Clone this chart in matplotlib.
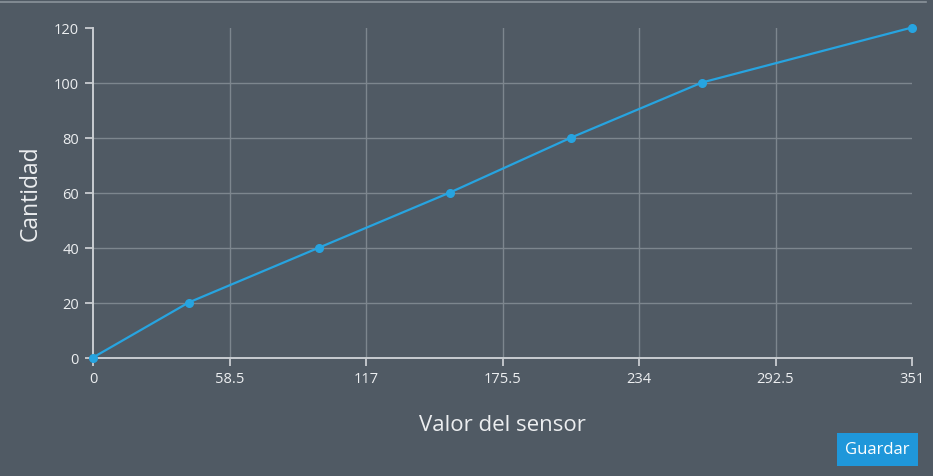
import matplotlib.pyplot as plt
from matplotlib.patches import Rectangle
from matplotlib.lines import Line2D

# Datos de la curva de calibración
valor_sensor = [0, 41, 97, 153, 205, 261, 351]
cantidad = [0, 20, 40, 60, 80, 100, 120]
xticks = [0, 58.5, 117, 175.5, 234, 292.5, 351]
xtick_labels = ["0", "58.5", "117", "175.5", "234", "292.5", "351"]
yticks = [0, 20, 40, 60, 80, 100, 120]

BG = '#505a64'
GRID = '#7d868e'
AXIS = '#c9cdd1'
TEXT = '#eceef0'
LINEA = '#27a4e0'

plt.rcParams['font.family'] = ['Open Sans', 'DejaVu Sans']

fig = plt.figure(figsize=(9.33, 4.77), dpi=100, facecolor=BG)
ax = fig.add_axes([93 / 933, 1 - 358.5 / 477, 819 / 933, 330 / 477])
ax.set_facecolor(BG)

ax.set_xlim(0, 351)
ax.set_ylim(0, 120)

# Rejilla
for yv in yticks[1:-1]:
    ax.axhline(yv, color=GRID, linewidth=1, zorder=1)
for xv in xticks[1:-1]:
    ax.axvline(xv, color=GRID, linewidth=1, zorder=1)

ax.plot(valor_sensor, cantidad, color=LINEA, linewidth=1.6, marker='o',
        markersize=5.5, zorder=3, clip_on=False)

for s in ['top', 'right']:
    ax.spines[s].set_visible(False)
for s in ['left', 'bottom']:
    ax.spines[s].set_color(AXIS)
    ax.spines[s].set_linewidth(1.4)

ax.set_xticks(xticks)
ax.set_xticklabels(xtick_labels)
ax.set_yticks(yticks)
ax.tick_params(colors=AXIS, labelcolor=TEXT, labelsize=10.5, length=6, width=1.3,
               pad=4)

ax.set_xlabel("Valor del sensor", color=TEXT, fontsize=16, labelpad=20)
ax.set_ylabel("Cantidad", color=TEXT, fontsize=16.5, labelpad=8)

# línea superior
fig.add_artist(Line2D([0, 926 / 933], [1 - 2.5 / 477, 1 - 2.5 / 477],
                      transform=fig.transFigure, color='#8a939b', linewidth=1.2))

# botón Guardar
btn_x, btn_y, btn_w, btn_h = 837 / 933, 1 - 467 / 477, 81 / 933, 33 / 477
fig.add_artist(Rectangle((btn_x, btn_y), btn_w, btn_h, transform=fig.transFigure,
                         facecolor='#1f97da', edgecolor='none'))
fig.text(btn_x + btn_w / 2, btn_y + btn_h / 2, "Guardar", color='white',
         fontsize=12, ha='center', va='center')

fig.savefig('out.png', dpi=100, facecolor=BG)
